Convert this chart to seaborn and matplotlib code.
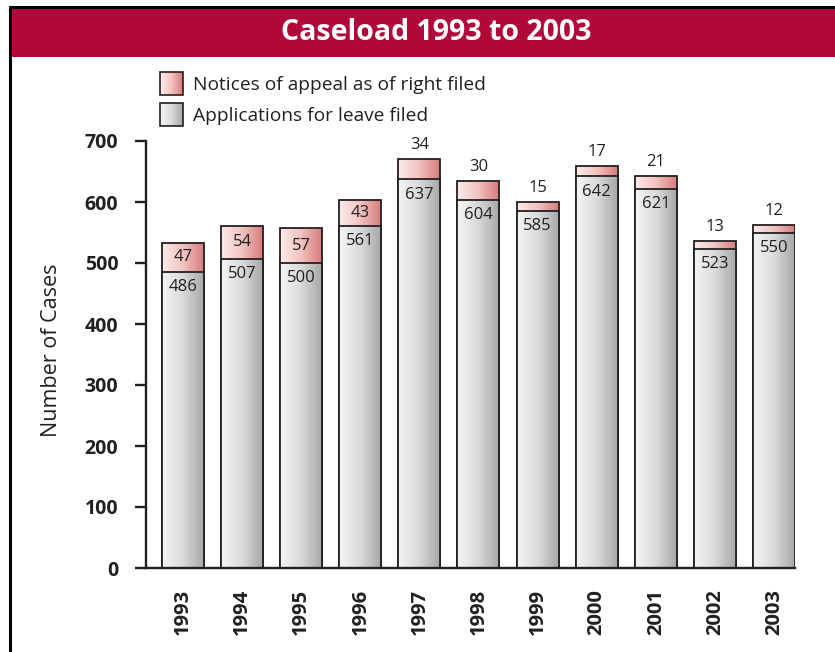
import numpy as np
import pandas as pd
import matplotlib
matplotlib.use("Agg")
import matplotlib.pyplot as plt
import seaborn as sns
from matplotlib.patches import Rectangle, Patch
from matplotlib.lines import Line2D
from matplotlib.colors import LinearSegmentedColormap
from matplotlib.legend_handler import HandlerBase

# ---- data ----
years = ["1993", "1994", "1995", "1996", "1997", "1998", "1999", "2000", "2001", "2002", "2003"]
applications = [486, 507, 500, 561, 637, 604, 585, 642, 621, 523, 550]
appeals = [47, 54, 57, 43, 34, 30, 15, 17, 21, 13, 12]
yticks = [0, 100, 200, 300, 400, 500, 600, 700]
series_labels = ["Notices of appeal as of right filed", "Applications for leave filed"]
title = "Caseload 1993 to 2003"
ylabel = "Number of Cases"

# ---- style ----
ink = "#231f20"
band = "#B00838"
red_cmap = LinearSegmentedColormap.from_list("redg", ["#fcecea", "#f1c3c1", "#d77b7c"])
grey_cmap = LinearSegmentedColormap.from_list("greyg", ["#f5f5f5", "#d9dadb", "#a6a7a9"])

sns.set_style("white")
plt.rcParams["font.family"] = ["Open Sans", "DejaVu Sans"]

W, H = 835, 652
fig = plt.figure(figsize=(W / 100, H / 100), dpi=100)
fig.patch.set_facecolor("white")

# frame + title band
fig.add_artist(Line2D([9.5 / W, 9.5 / W], [0, 1 - 6 / H], transform=fig.transFigure, color="black", lw=2.2, solid_capstyle="butt"))
fig.add_artist(Line2D([8.5 / W, 1], [1 - 7 / H, 1 - 7 / H], transform=fig.transFigure, color="black", lw=2.2, solid_capstyle="butt"))
fig.add_artist(Rectangle((11 / W, 1 - 57 / H), 1 - 11 / W, 48 / H, transform=fig.transFigure,
                         facecolor=band, edgecolor="none"))
fig.text(436 / W, 1 - 33 / H, title, ha="center", va="center", color="white",
         fontsize=20.5, fontweight="bold")

ax = fig.add_axes([146 / W, 1 - 568 / H, (795 - 146) / W, (568 - 141) / H])

df = pd.DataFrame({"year": years, "applications": applications, "appeals": appeals})
df["total"] = df["applications"] + df["appeals"]

bw = 0.71
sns.barplot(data=df, x="year", y="total", color="#eab0b0", width=bw, edgecolor=ink,
            linewidth=1.3, ax=ax, zorder=2, saturation=1)
n_red = len(ax.patches)
sns.barplot(data=df, x="year", y="applications", color="#d0d0d0", width=bw, edgecolor=ink,
            linewidth=1.3, ax=ax, zorder=3, saturation=1)

grad = np.linspace(0, 1, 256).reshape(1, -1)
for i, p in enumerate(ax.patches):
    cmap = red_cmap if i < n_red else grey_cmap
    x0, y0 = p.get_x(), p.get_y()
    w, h = p.get_width(), p.get_height()
    im = ax.imshow(grad, cmap=cmap, extent=[x0, x0 + w, y0, y0 + h], aspect="auto",
                   interpolation="bilinear", zorder=p.get_zorder() - 0.05)
    im.set_clip_path(p)
    p.set_facecolor("none")

ax.set_xlim(-0.625, 10.355)
ax.set_ylim(0, 700)

# value labels
for i, (a, b) in enumerate(zip(applications, appeals)):
    ax.annotate(f"{a}", (i, a), xytext=(0, -11), textcoords="offset points",
                ha="center", va="center", fontsize=12, color=ink, zorder=6)
    if b >= 40:
        ax.text(i, a + b / 2, f"{b}", ha="center", va="center", fontsize=12, color=ink, zorder=6)
    else:
        ax.annotate(f"{b}", (i, a + b), xytext=(0, 10), textcoords="offset points",
                    ha="center", va="center", fontsize=12, color=ink, zorder=6)

# axes styling
for s in ["top", "right"]:
    ax.spines[s].set_visible(False)
for s in ["left", "bottom"]:
    ax.spines[s].set_color(ink)
    ax.spines[s].set_linewidth(1.7)
    ax.spines[s].set_zorder(5)
ax.set_yticks(yticks)
ax.set_yticklabels([str(t) for t in yticks], fontweight="bold")
ax.tick_params(axis="y", length=8, width=1.7, direction="out", pad=12, labelsize=14,
               colors=ink, left=True)
ax.tick_params(axis="x", length=0, pad=15, labelsize=14.5, labelcolor=ink, labelrotation=90)
for lab in ax.get_xticklabels():
    lab.set_fontweight("bold")
ax.set_xlabel("")
ax.set_ylabel(ylabel, fontsize=15.5, color=ink)
ax.yaxis.set_label_coords(-0.130, 0.51)


# legend with gradient swatches
class GradHandler(HandlerBase):
    def __init__(self, cmap, n=30):
        super().__init__()
        self.cmap = cmap
        self.n = n

    def create_artists(self, legend, orig_handle, xdescent, ydescent, width, height, fontsize, trans):
        arts = []
        for k in range(self.n):
            arts.append(Rectangle((-xdescent + width * k / self.n, -ydescent), width / self.n * 1.1, height,
                                  facecolor=self.cmap(k / (self.n - 1)), edgecolor="none", transform=trans))
        arts.append(Rectangle((-xdescent, -ydescent), width, height, facecolor="none",
                              edgecolor=ink, lw=1.2, transform=trans))
        return arts


h_red = Patch(label=series_labels[0])
h_grey = Patch(label=series_labels[1])
leg = fig.legend(handles=[h_red, h_grey], labels=series_labels,
                 handler_map={h_red: GradHandler(red_cmap), h_grey: GradHandler(grey_cmap)},
                 loc="upper left", bbox_to_anchor=(160 / W, 1 - 72 / H), frameon=False,
                 fontsize=13.8, handlelength=1.2, handleheight=1.47, handletextpad=0.52,
                 labelspacing=0.40, borderpad=0, borderaxespad=0, labelcolor=ink)

fig.savefig("out.png", dpi=100)
